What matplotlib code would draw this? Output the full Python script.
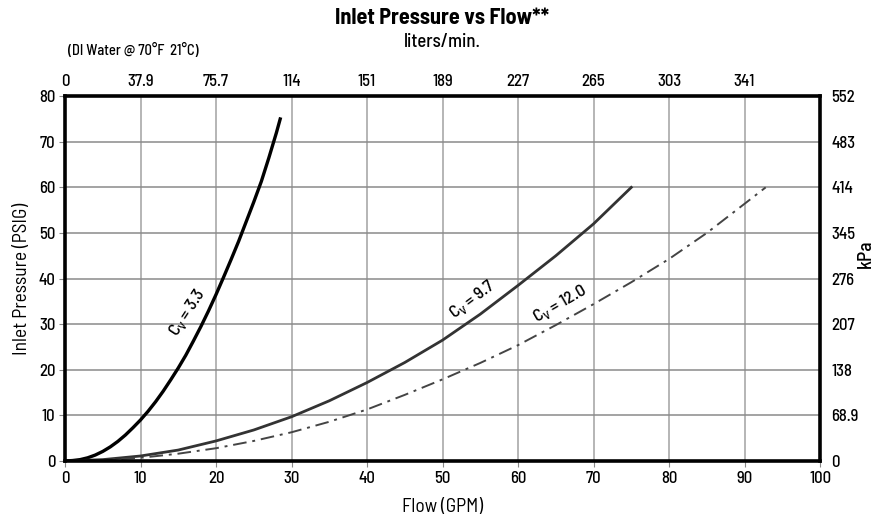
import matplotlib
matplotlib.use('Agg')
import matplotlib.pyplot as plt

plt.rcParams['font.family'] = ['Barlow Semi Condensed', 'DejaVu Sans']
plt.rcParams['font.weight'] = 'medium'

# curves: flow (GPM) vs inlet pressure (PSIG)
flow_33 = [0, 1, 2, 3, 4, 5, 6, 7, 8, 9, 10, 11, 12, 13, 14, 15, 16, 17, 18, 19,
           20, 21, 22, 23, 24, 25, 26, 27, 28, 28.5]
psig_33 = [0, 0.1, 0.3, 0.7, 1.3, 2.1, 3.1, 4.3, 5.7, 7.3, 9.0, 10.9, 13.0, 15.3, 17.8, 20.4,
           23.2, 26.3, 29.5, 32.9, 36.5, 40.3, 44.2, 48.2, 52.5, 56.8, 61.3, 66.5, 72.0, 75.0]

flow_97 = [0, 5, 10, 15, 20, 25, 30, 35, 40, 45, 50, 55, 60, 65, 70, 75]
psig_97 = [0, 0.3, 1.1, 2.4, 4.4, 6.8, 9.7, 13.2, 17.2, 21.6, 26.5, 32.2, 38.5, 45.0, 52.0, 60.0]

flow_12 = [0, 5, 10, 15, 20, 25, 30, 35, 40, 45, 50, 55, 60, 65, 70, 75, 80, 85, 90, 92.8]
psig_12 = [0, 0.2, 0.7, 1.6, 2.8, 4.4, 6.3, 8.6, 11.3, 14.5, 17.9, 21.5, 25.4, 29.8, 34.4, 39.2, 44.3, 50.0, 56.4, 60.0]

gpm_ticks = [0, 10, 20, 30, 40, 50, 60, 70, 80, 90, 100]
lpm_labels = ['0', '37.9', '75.7', '114', '151', '189', '227', '265', '303', '341']
psig_ticks = [0, 10, 20, 30, 40, 50, 60, 70, 80]
kpa_labels = ['0', '68.9', '138', '207', '276', '345', '414', '483', '552']

fig = plt.figure(figsize=(8.81, 5.16), dpi=100)
ax = fig.add_axes([0.0738, 0.1066, 0.857, 0.707])

ax.set_xlim(0, 100)
ax.set_ylim(0, 80)
ax.set_xticks(gpm_ticks)
ax.set_yticks(psig_ticks)

# grid: vertical lighter, horizontal darker
for g in gpm_ticks[1:-1]:
    ax.axvline(g, color='#b0b0b0', lw=1.3, zorder=1)
for p in psig_ticks[1:-1]:
    ax.axhline(p, color='#8a8a8a', lw=1.1, zorder=1)

ax.plot(flow_33, psig_33, color='black', lw=2.4, zorder=3)
ax.plot(flow_97, psig_97, color='#333333', lw=2.0, zorder=3)
ax.plot(flow_12, psig_12, color='#444444', lw=1.4, ls=(0, (7, 3, 1.5, 3)), zorder=3)

ax.text(16.2, 32.6, r'C$_\mathregular{V}$ = 3.3', rotation=57, ha='center', va='center', fontsize=12.5)
ax.text(53.9, 35.4, r'C$_\mathregular{V}$ = 9.7', rotation=37, ha='center', va='center', fontsize=12.5)
ax.text(65.6, 34.5, r'C$_\mathregular{V}$ = 12.0', rotation=30, ha='center', va='center', fontsize=12.5)

for s in ax.spines.values():
    s.set_linewidth(2.6)
    s.set_color('black')
    s.set_zorder(4)

ax.tick_params(axis='both', labelsize=12, length=4, width=0.8, color='#888888', pad=3)
ax.set_xlabel('Flow (GPM)', fontsize=14, labelpad=9)
ax.set_ylabel('Inlet Pressure (PSIG)', fontsize=14, labelpad=5)

# top axis: liters/min
top = ax.twiny()
top.set_xlim(0, 100)
top.set_xticks(gpm_ticks[:-1])
top.set_xticklabels(lpm_labels)
top.tick_params(axis='x', labelsize=12, length=0, pad=5)

# right axis: kPa
right = ax.twinx()
right.set_ylim(0, 80)
right.set_yticks(psig_ticks)
right.set_yticklabels(kpa_labels)
right.tick_params(axis='y', labelsize=12, length=0, pad=8)
for a in (top, right):
    for s in a.spines.values():
        s.set_visible(False)

fig.text(0.983, 0.508, 'kPa', rotation=90, ha='center', va='center', fontsize=14)
fig.text(0.502, 0.966, 'Inlet Pressure vs Flow**', ha='center', va='center', fontsize=16, fontweight='bold')
fig.text(0.502, 0.918, 'liters/min.', ha='center', va='center', fontsize=13.5)
fig.text(0.077, 0.903, '(DI Water @ 70°F  21°C)', ha='left', va='center', fontsize=10.5)

fig.savefig('out.png', dpi=100)
